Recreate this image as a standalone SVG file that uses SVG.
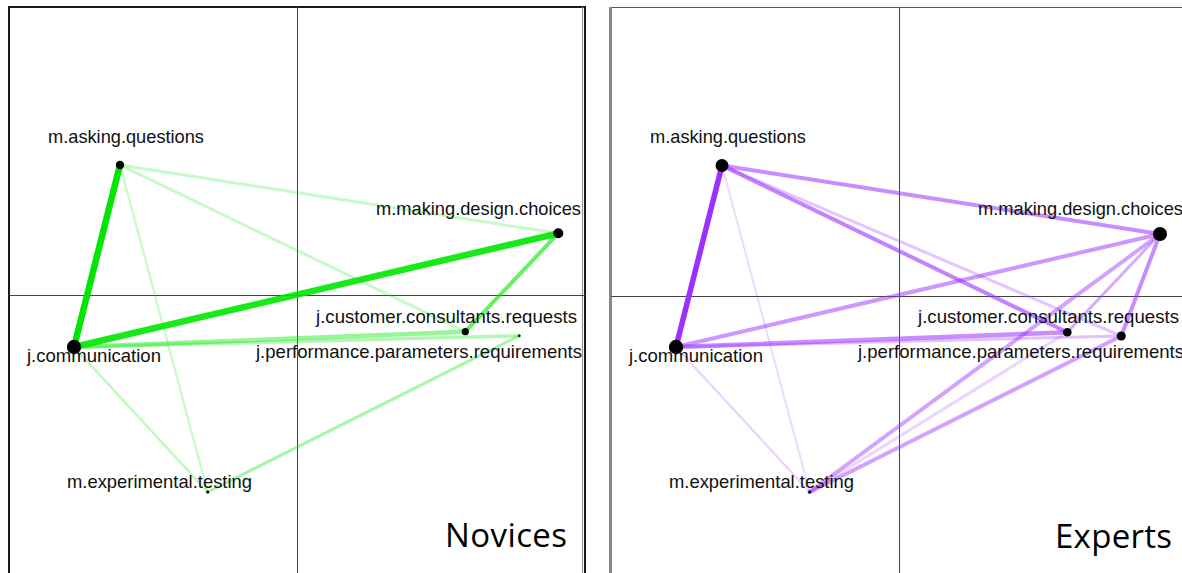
<svg xmlns="http://www.w3.org/2000/svg" width="1182" height="573" viewBox="0 0 1182 573">
  <style>
    .lbl { font-family: "Liberation Sans", Arial, sans-serif; font-size: 19px; fill: #111; }
    .title { font-family: "Open Sans", "Liberation Sans", sans-serif; font-size: 33px; fill: #000; }
    .axis { stroke: #444; stroke-width: 1; fill: none; }
    .dot { fill: #000; }
    .g { stroke: #00e600; stroke-linecap: round; fill: none; }
    .p { stroke: #9b30ff; stroke-linecap: round; fill: none; }
  </style>

  <rect x="0" y="0" width="1182" height="573" fill="#fff"/>

  <!-- panel frames and quadrant axes -->
  <g id="frames">
    <path d="M9,580 V7 H585 V580" fill="none" stroke="#1a1a1a" stroke-width="2"/>
    <line x1="582.5" y1="7" x2="582.5" y2="580" stroke="#999" stroke-width="1.2"/>
    <line class="axis" x1="297.5" y1="7" x2="297.5" y2="580"/>
    <line class="axis" x1="9" y1="295.5" x2="585" y2="295.5"/>

    <line x1="610.5" y1="7" x2="610.5" y2="580" stroke="#888" stroke-width="3"/>
    <line x1="612" y1="7.5" x2="1182" y2="7.5" stroke="#555" stroke-width="1.2"/>
    <line class="axis" x1="899.5" y1="8" x2="899.5" y2="580"/>
    <line class="axis" x1="611" y1="296.5" x2="1182" y2="296.5"/>
  </g>

  <!-- connectors: novices (green) -->
  <g id="connectors-novices">
    <line class="g" x1="120" y1="165" x2="207.7" y2="492" stroke-width="2.5" stroke-opacity="0.2"/>
    <line class="g" x1="74" y1="347" x2="207.7" y2="492" stroke-width="2.5" stroke-opacity="0.25"/>
    <line class="g" x1="120" y1="165" x2="558.3" y2="233.3" stroke-width="3" stroke-opacity="0.22"/>
    <line class="g" x1="120" y1="165" x2="465.3" y2="331.7" stroke-width="3" stroke-opacity="0.22"/>
    <line class="g" x1="207.7" y1="492" x2="519.3" y2="335.7" stroke-width="3" stroke-opacity="0.35"/>
    <line class="g" x1="74" y1="347" x2="519.3" y2="335.7" stroke-width="3.5" stroke-opacity="0.3"/>
    <line class="g" x1="74" y1="347" x2="465.3" y2="331.7" stroke-width="4.5" stroke-opacity="0.4"/>
    <line class="g" x1="558.3" y1="233.3" x2="465.3" y2="331.7" stroke-width="4" stroke-opacity="0.6"/>
    <line class="g" x1="74" y1="347" x2="558.3" y2="233.3" stroke-width="6.5" stroke-opacity="0.9"/>
    <line class="g" x1="120" y1="165" x2="74" y2="347" stroke-width="6.5"/>
  </g>

  <!-- connectors: experts (purple) -->
  <g id="connectors-experts">
    <line class="p" x1="722" y1="165.5" x2="809.7" y2="492" stroke-width="2" stroke-opacity="0.18"/>
    <line class="p" x1="676" y1="347" x2="809.7" y2="492" stroke-width="2.5" stroke-opacity="0.2"/>
    <line class="p" x1="1067.3" y1="332.3" x2="809.7" y2="492" stroke-width="3" stroke-opacity="0.2"/>
    <line class="p" x1="722" y1="165.5" x2="1121.3" y2="336" stroke-width="3" stroke-opacity="0.28"/>
    <line class="p" x1="676" y1="347" x2="1121.3" y2="336" stroke-width="3" stroke-opacity="0.3"/>
    <line class="p" x1="1160" y1="234" x2="1067.3" y2="332.3" stroke-width="3" stroke-opacity="0.4"/>
    <line class="p" x1="1160" y1="234" x2="809.7" y2="492" stroke-width="4" stroke-opacity="0.45"/>
    <line class="p" x1="1121.3" y1="336" x2="809.7" y2="492" stroke-width="4" stroke-opacity="0.45"/>
    <line class="p" x1="676" y1="347" x2="1160" y2="234" stroke-width="4" stroke-opacity="0.5"/>
    <line class="p" x1="722" y1="165.5" x2="1160" y2="234" stroke-width="4" stroke-opacity="0.55"/>
    <line class="p" x1="722" y1="165.5" x2="1067.3" y2="332.3" stroke-width="4" stroke-opacity="0.6"/>
    <line class="p" x1="676" y1="347" x2="1067.3" y2="332.3" stroke-width="4.5" stroke-opacity="0.55"/>
    <line class="p" x1="1160" y1="234" x2="1121.3" y2="336" stroke-width="4" stroke-opacity="0.55"/>
    <line class="p" x1="722" y1="165.5" x2="676" y2="347" stroke-width="5.5"/>
  </g>

  <!-- novices nodes -->
  <g id="n-asking-questions">
    <circle class="dot" cx="120" cy="165" r="4.2"/>
    <text class="lbl" x="48" y="143" textLength="156" lengthAdjust="spacingAndGlyphs">m.asking.questions</text>
  </g>
  <g id="n-making-design-choices">
    <circle class="dot" cx="558.3" cy="233.3" r="5"/>
    <text class="lbl" x="376" y="215" textLength="205" lengthAdjust="spacingAndGlyphs">m.making.design.choices</text>
  </g>
  <g id="n-customer-consultants-requests">
    <circle class="dot" cx="465.3" cy="331.7" r="3.6"/>
    <text class="lbl" x="316" y="323" textLength="261" lengthAdjust="spacingAndGlyphs">j.customer.consultants.requests</text>
  </g>
  <g id="n-performance-parameters-requirements">
    <circle class="dot" cx="519.3" cy="335.7" r="1.2"/>
    <text class="lbl" x="256" y="358" textLength="326" lengthAdjust="spacingAndGlyphs">j.performance.parameters.requirements</text>
  </g>
  <g id="n-communication">
    <circle class="dot" cx="74" cy="347" r="7.2"/>
    <text class="lbl" x="27" y="362" textLength="134" lengthAdjust="spacingAndGlyphs">j.communication</text>
  </g>
  <g id="n-experimental-testing">
    <circle class="dot" cx="207.7" cy="492" r="1.6"/>
    <text class="lbl" x="67" y="488" textLength="185" lengthAdjust="spacingAndGlyphs">m.experimental.testing</text>
  </g>
  <text class="title" x="445" y="547" textLength="122">Novices</text>

  <!-- experts nodes -->
  <g id="e-asking-questions">
    <circle class="dot" cx="722" cy="165.5" r="6.5"/>
    <text class="lbl" x="650" y="143" textLength="156" lengthAdjust="spacingAndGlyphs">m.asking.questions</text>
  </g>
  <g id="e-making-design-choices">
    <circle class="dot" cx="1160" cy="234" r="7"/>
    <text class="lbl" x="978" y="215" textLength="205" lengthAdjust="spacingAndGlyphs">m.making.design.choices</text>
  </g>
  <g id="e-customer-consultants-requests">
    <circle class="dot" cx="1067.3" cy="332.3" r="4.3"/>
    <text class="lbl" x="918" y="323" textLength="261" lengthAdjust="spacingAndGlyphs">j.customer.consultants.requests</text>
  </g>
  <g id="e-performance-parameters-requirements">
    <circle class="dot" cx="1121.3" cy="336" r="4.5"/>
    <text class="lbl" x="858" y="358" textLength="326" lengthAdjust="spacingAndGlyphs">j.performance.parameters.requirements</text>
  </g>
  <g id="e-communication">
    <circle class="dot" cx="676" cy="347" r="7.2"/>
    <text class="lbl" x="629" y="362" textLength="134" lengthAdjust="spacingAndGlyphs">j.communication</text>
  </g>
  <g id="e-experimental-testing">
    <circle class="dot" cx="809.7" cy="492" r="1.6"/>
    <text class="lbl" x="669" y="488" textLength="185" lengthAdjust="spacingAndGlyphs">m.experimental.testing</text>
  </g>
  <text class="title" x="1055" y="548" textLength="117">Experts</text>
</svg>
